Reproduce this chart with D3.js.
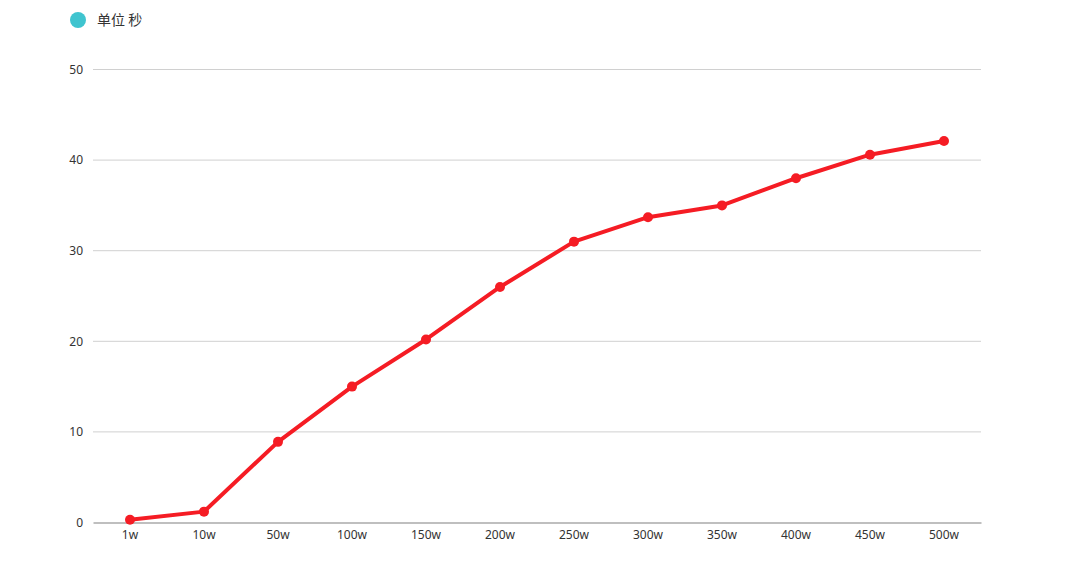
<!DOCTYPE html>
<html><head><meta charset="utf-8">
<script src="https://cdn.jsdelivr.net/npm/d3@7"></script>
<style>html,body{margin:0;padding:0;background:#fff;}svg{display:block;}</style>
</head><body>
<svg id="c" width="1080" height="576"></svg>
<script>
const categories = ["1w","10w","50w","100w","150w","200w","250w","300w","350w","400w","450w","500w"];
const values = [0.3, 1.2, 8.9, 15.0, 20.2, 26.0, 31.0, 33.7, 35.0, 38.0, 40.6, 42.1];
const yTicks = [0, 10, 20, 30, 40, 50];
const seriesName = "单位 秒";

const svg = d3.select("#c");
const font = "'Noto Sans','Noto Sans CJK SC',sans-serif";
const m = {left: 93, right: 981, top: 69.5, bottom: 522.5};
const x = d3.scaleBand().domain(categories).range([m.left, m.right]);
const y = d3.scaleLinear().domain([0, 50]).range([m.bottom, m.top]);

// grid
svg.append("g").selectAll("line").data(yTicks.filter(d => d > 0)).join("line")
  .attr("x1", m.left).attr("x2", m.right)
  .attr("y1", d => y(d)).attr("y2", d => y(d))
  .attr("stroke", "#d0d0d0").attr("stroke-width", 1);

// y labels
const yAxis = d3.axisLeft(y).tickValues(yTicks).tickSize(0).tickPadding(10);
const ya = svg.append("g").attr("transform", `translate(${m.left},0)`).call(yAxis);
ya.select(".domain").remove();
ya.selectAll("text").attr("font-family", font).attr("font-size", 12).attr("fill", "#333");

// x axis
const xAxis = d3.axisBottom(x).tickSize(0).tickPadding(8);
const xa = svg.append("g").attr("transform", `translate(0,${m.bottom})`).call(xAxis);
xa.select(".domain").attr("stroke", "#aaa").attr("stroke-width", 1.5);
xa.selectAll("text").attr("font-family", font).attr("font-size", 12).attr("fill", "#333");

// line
const line = d3.line().x((d, i) => x(categories[i]) + x.bandwidth() / 2).y(d => y(d));
svg.append("path").datum(values).attr("d", line)
  .attr("fill", "none").attr("stroke", "#f51c24").attr("stroke-width", 4)
  .attr("stroke-linejoin", "round");
svg.append("g").selectAll("circle").data(values).join("circle")
  .attr("cx", (d, i) => x(categories[i]) + x.bandwidth() / 2)
  .attr("cy", d => y(d)).attr("r", 5).attr("fill", "#f51c24");

// legend
svg.append("circle").attr("cx", 78).attr("cy", 20).attr("r", 8).attr("fill", "#3fc4cf");
svg.append("text").attr("x", 97).attr("y", 25).text(seriesName)
  .attr("font-family", "'Noto Sans CJK SC',sans-serif").attr("font-size", 14).attr("fill", "#333");
</script>
</body></html>
